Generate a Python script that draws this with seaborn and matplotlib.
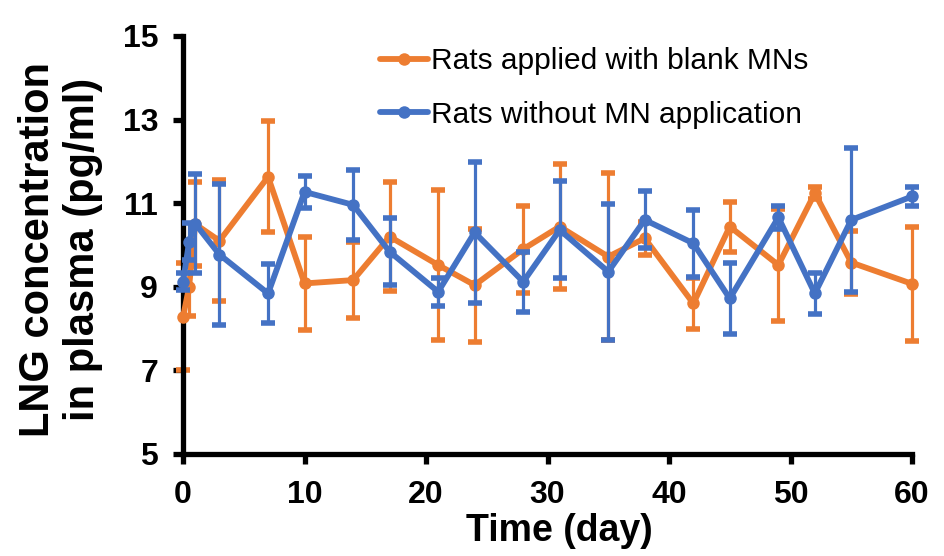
import matplotlib
matplotlib.use("Agg")
import matplotlib.pyplot as plt
import pandas as pd
import seaborn as sns

# Sampling days
days = [0, 0.5, 1, 3, 7, 10, 14, 17, 21, 24, 28, 31, 35, 38, 42, 45, 49, 52, 55, 60]

# Rats applied with blank MNs (mean, sd)
blank_mean = [8.28, 9.0, 10.5, 10.1, 11.63, 9.08, 9.16, 10.2, 9.52, 9.04,
              9.9, 10.44, 9.72, 10.16, 8.6, 10.44, 9.52, 11.24, 9.58, 9.07]
blank_err = [1.28, 0.7, 1.0, 1.45, 1.33, 1.12, 0.9, 1.31, 1.79, 1.35,
             1.04, 1.5, 2.0, 0.4, 0.6, 0.6, 1.33, 0.15, 0.75, 1.37]

# Rats without MN application (mean, sd)
none_mean = [9.12, 10.08, 10.51, 9.77, 8.84, 11.27, 10.96, 9.84, 8.88, 10.3,
             9.12, 10.36, 9.36, 10.6, 10.04, 8.72, 10.66, 8.84, 10.6, 11.16]
none_err = [0.2, 0.45, 1.19, 1.68, 0.7, 0.38, 0.84, 0.8, 0.34, 1.69,
            0.72, 1.16, 1.63, 0.68, 0.8, 0.85, 0.27, 0.48, 1.72, 0.22]

labels = ['Rats applied with blank MNs', 'Rats without MN application']
colors = ['#ED7D31', '#4472C4']


def main():
    sns.set_style("ticks")
    plt.rcParams['font.family'] = ['Liberation Sans', 'DejaVu Sans']
    for k in ['text.color', 'axes.labelcolor', 'xtick.color', 'ytick.color', 'axes.edgecolor']:
        plt.rcParams[k] = 'black'

    fig = plt.figure(figsize=(9.45, 5.56), dpi=100)
    ax = fig.add_axes([0.1937, 0.1835, 0.7714, 0.7518])

    series = [(blank_mean, blank_err), (none_mean, none_err)]
    z = 2
    for (mean, err), lab, col in zip(series, labels, colors):
        df = pd.DataFrame({'day': days, 'conc': mean, 'err': err})
        ax.errorbar(df['day'], df['conc'], yerr=df['err'], fmt='none', ecolor=col,
                    elinewidth=2.3, capsize=5, capthick=4, zorder=z, clip_on=False)
        sns.lineplot(data=df, x='day', y='conc', ax=ax, color=col, label=lab,
                     marker='o', markersize=9, markeredgewidth=0, linewidth=4.2,
                     zorder=z + 1, clip_on=False)
        z += 2

    ax.set_xlim(0, 60)
    ax.set_ylim(5, 15)
    ax.set_xticks(range(0, 61, 10))
    ax.set_yticks(range(5, 16, 2))
    sns.despine(ax=ax)
    for s in ['left', 'bottom']:
        ax.spines[s].set_linewidth(3.8)
    ax.tick_params(axis='both', direction='out', length=7, width=3.8,
                   labelsize=23, pad=11)
    ax.tick_params(axis='x', pad=12)
    for t in ax.get_xticklabels() + ax.get_yticklabels():
        t.set_fontweight('bold')

    ax.set_xlabel('Time (day)', fontsize=27, fontweight='bold')
    ax.xaxis.set_label_coords(0.516, -0.142)
    ax.set_ylabel('LNG concentration\nin plasma (pg/ml)', fontsize=30,
                  fontweight='bold', linespacing=1.15)
    ax.yaxis.set_label_coords(-0.11, 0.49)

    ax.legend(loc='upper left', bbox_to_anchor=(0.402, 0.915),
              bbox_transform=fig.transFigure, frameon=False, fontsize=21.5,
              handlelength=1.6, handletextpad=0.1, labelspacing=0.85,
              borderpad=0, borderaxespad=0)

    fig.savefig('out.png', dpi=100)
    plt.close(fig)


if __name__ == "__main__":
    main()
